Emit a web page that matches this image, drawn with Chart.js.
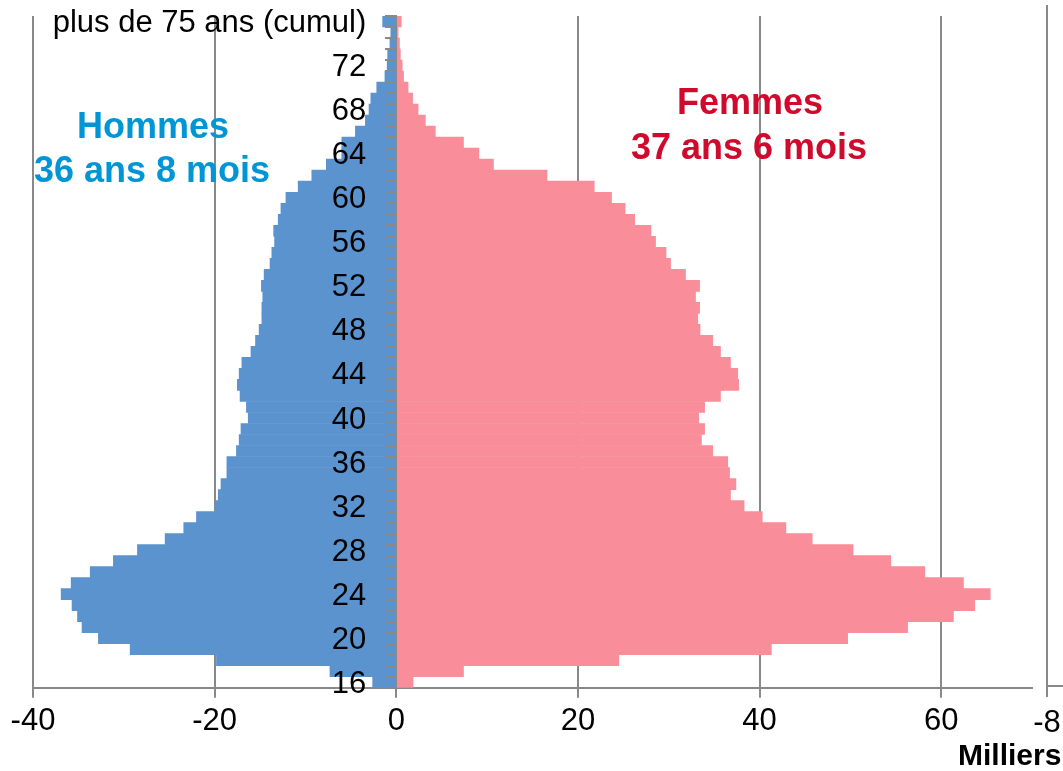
<!DOCTYPE html>
<html lang="fr">
<head>
<meta charset="utf-8">
<title>Pyramide des âges</title>
<script src="https://cdn.jsdelivr.net/npm/chart.js@4.4.1/dist/chart.umd.min.js"></script>
<style>
  html, body { margin: 0; padding: 0; background: #fff; }
  #wrap { width: 1063px; height: 771px; }
</style>
</head>
<body>
<div id="wrap"><canvas id="pyramid" width="1063" height="771"></canvas></div>
<script>
// Age categories, top of the pyramid first
const ages = ['plus de 75 ans (cumul)', '75', '74', '73', '72', '71', '70', '69', '68', '67',
  '66', '65', '64', '63', '62', '61', '60', '59', '58', '57',
  '56', '55', '54', '53', '52', '51', '50', '49', '48', '47',
  '46', '45', '44', '43', '42', '41', '40', '39', '38', '37',
  '36', '35', '34', '33', '32', '31', '30', '29', '28', '27',
  '26', '25', '24', '23', '22', '21', '20', '19', '18', '17', '16'];

// Labels actually printed on the age axis
const shownAges = ['plus de 75 ans (cumul)', '72', '68', '64', '60', '56', '52', '48',
  '44', '40', '36', '32', '28', '24', '20', '16'];

// Milliers, hommes on the negative side
const hommes = [-1.5, -0.6, -0.7, -0.95, -1.0, -1.25, -2.15, -2.8, -3.0, -3.4,
  -4.5, -6.0, -6.0, -7.7, -9.3, -10.8, -12.15, -12.7, -13.0, -13.5,
  -13.4, -13.7, -13.9, -14.55, -14.85, -14.7, -14.8, -14.8, -15.1, -15.5,
  -16.0, -17.0, -17.3, -17.5, -17.2, -16.5, -16.3, -17.1, -17.3, -17.6,
  -18.65, -18.65, -19.3, -19.6, -19.95, -22.0, -23.4, -25.45, -28.5, -31.15,
  -33.7, -35.8, -36.9, -35.7, -35.1, -34.6, -32.8, -29.3, -19.8, -7.3, -2.6];

const femmes = [0.55, 0.2, 0.35, 0.45, 0.65, 0.8, 1.3, 1.8, 2.4, 3.2,
  4.3, 7.4, 9.1, 10.7, 16.6, 21.8, 23.7, 25.2, 26.25, 28.05,
  28.55, 29.7, 30.2, 31.85, 33.4, 32.95, 33.4, 33.2, 33.45, 34.85,
  35.7, 36.8, 37.6, 37.7, 35.7, 33.95, 33.3, 33.95, 33.6, 34.85,
  36.5, 36.7, 37.4, 36.8, 38.3, 40.3, 42.9, 45.8, 50.3, 54.45,
  58.2, 62.45, 65.4, 63.7, 61.35, 56.3, 49.7, 41.3, 24.5, 7.4, 1.85];

const xTicks = [-40, -20, 0, 20, 40, 60];

const FONT = '"Liberation Sans", Arial, Helvetica, sans-serif';
const GRID = '#898989';

// Titles for each side, plus the clipped axis bits on the right edge
const annotations = {
    id: 'annotations',
    afterDraw(chart) {
        const ctx = chart.ctx;
        ctx.save();
        ctx.textAlign = 'center';
        ctx.textBaseline = 'middle';
        ctx.font = 'bold 36px ' + FONT;
        ctx.fillStyle = '#0096D6';
        ctx.fillText('Hommes', 153, 128);
        ctx.fillText('36 ans 8 mois', 152, 172);
        ctx.fillStyle = '#CF0A2C';
        ctx.fillText('Femmes', 750, 104);
        ctx.fillText('37 ans 6 mois', 749, 149);

        ctx.strokeStyle = GRID;
        ctx.lineWidth = 2;
        ctx.beginPath();
        ctx.moveTo(1047, 5);
        ctx.lineTo(1047, 697);
        ctx.moveTo(1047, 686);
        ctx.lineTo(1063, 686);
        ctx.stroke();

        ctx.fillStyle = '#000';
        ctx.font = '31px ' + FONT;
        ctx.fillText('-8', 1047, 723);
        ctx.textAlign = 'left';
        ctx.font = 'bold 30px ' + FONT;
        ctx.fillText('Milliers', 958, 757);
        ctx.restore();
    }
};

const noPadding = scale => { scale.paddingTop = 0; scale.paddingBottom = 0; };

new Chart(document.getElementById('pyramid'), {
    type: 'bar',
    data: {
        labels: ages,
        datasets: [
            { label: 'Hommes', data: hommes, backgroundColor: '#5B93CE' },
            { label: 'Femmes', data: femmes, backgroundColor: '#F98D99' }
        ]
    },
    options: {
        indexAxis: 'y',
        responsive: false,
        animation: false,
        devicePixelRatio: 1,
        barPercentage: 1,
        categoryPercentage: 1,
        layout: { padding: { left: 33, right: 31, top: 16, bottom: 26 } },
        plugins: {
            legend: { display: false },
            tooltip: { enabled: false }
        },
        scales: {
            x: {
                type: 'linear',
                min: -40,
                max: 70,
                stacked: true,
                afterBuildTicks: axis => { axis.ticks = xTicks.map(v => ({ value: v })); },
                grid: { color: GRID, lineWidth: 2, tickLength: 10 },
                border: { color: GRID, width: 2 },
                ticks: { padding: 5, color: '#000', font: { family: FONT, size: 31 } }
            },
            // age axis sitting on zero: tick marks and border, drawn over the bars
            y: {
                type: 'category',
                axis: 'y',
                position: { x: 0 },
                stacked: true,
                offset: true,
                grid: { z: 1, drawOnChartArea: false, tickLength: 10, color: GRID, lineWidth: 2, offset: true },
                border: { z: 1, color: GRID, width: 2 },
                ticks: { display: false, autoSkip: false },
                afterFit: noPadding
            },
            // age labels, a little left of the zero line, on top of the bars
            yLabels: {
                type: 'category',
                axis: 'y',
                labels: ages,
                position: { x: -3.3 },
                offset: true,
                grid: { display: false },
                border: { display: false },
                ticks: {
                    z: 2,
                    autoSkip: false,
                    labelOffset: 2,
                    color: '#000',
                    font: { family: FONT, size: 31 },
                    callback: function(value) {
                        const label = this.getLabelForValue(value);
                        return shownAges.includes(label) ? label : '';
                    }
                },
                afterFit: noPadding
            }
        }
    },
    plugins: [annotations]
});
</script>
</body>
</html>
